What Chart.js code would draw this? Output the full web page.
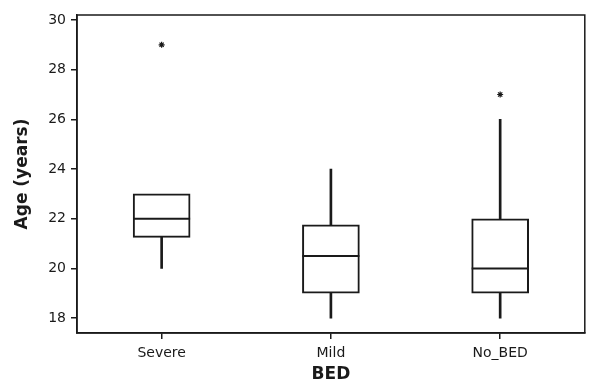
<!DOCTYPE html>
<html>
<head>
<meta charset="utf-8">
<script src="https://cdn.jsdelivr.net/npm/chart.js@4"></script>
<style>
  html, body { margin: 0; padding: 0; background: #fff; }
  #wrap { width: 590px; height: 389px; }
</style>
</head>
<body>
<div id="wrap"><canvas id="chart"></canvas></div>
<script>
// box plot summary
const groups = ['Severe', 'Mild', 'No_BED'];
const whiskerLow = [20, 18, 18];
const q1 = [21.25, 19, 19];
const median = [22, 20.5, 20];
const q3 = [23, 21.75, 22];
const whiskerHigh = [23, 24, 26];
const outliers = [{ x: 'Severe', y: 29 }, { x: 'No_BED', y: 27 }];
const yTicks = [18, 20, 22, 24, 26, 28, 30];

const INK = '#1a1a1a';

// median lines + frame around plot area
const boxExtras = {
  id: 'boxExtras',
  afterDatasetsDraw(chart) {
    const ctx = chart.ctx;
    const y = chart.scales.y;
    const bars = chart.getDatasetMeta(2).data;
    ctx.save();
    ctx.strokeStyle = INK;
    ctx.lineWidth = 2;
    bars.forEach((bar, i) => {
      const py = y.getPixelForValue(median[i]);
      ctx.beginPath();
      ctx.moveTo(bar.x - bar.width / 2, py);
      ctx.lineTo(bar.x + bar.width / 2, py);
      ctx.stroke();
    });
    const a = chart.chartArea;
    ctx.lineWidth = 1.5;
    ctx.strokeRect(a.left, a.top, a.right - a.left, a.bottom - a.top);
    ctx.restore();
  }
};

new Chart(document.getElementById('chart'), {
  data: {
    labels: groups,
    datasets: [
      {
        type: 'bar',
        data: groups.map((g, i) => whiskerLow[i] < q1[i] ? [whiskerLow[i], q1[i]] : null),
        backgroundColor: INK,
        barThickness: 2,
        grouped: false,
      },
      {
        type: 'bar',
        data: groups.map((g, i) => whiskerHigh[i] > q3[i] ? [q3[i], whiskerHigh[i]] : null),
        backgroundColor: INK,
        barThickness: 2,
        grouped: false,
      },
      {
        type: 'bar',
        data: groups.map((g, i) => [q1[i], q3[i]]),
        backgroundColor: '#fff',
        borderColor: INK,
        borderWidth: 2,
        borderSkipped: false,
        barThickness: 57,
        grouped: false,
      },
      {
        type: 'scatter',
        data: outliers,
        pointStyle: 'star',
        radius: 3,
        borderColor: INK,
        borderWidth: 1.2,
        backgroundColor: INK,
      },
    ],
  },
  options: {
    responsive: true,
    maintainAspectRatio: false,
    animation: false,
    layout: { padding: { top: 15, right: 5, left: 8, bottom: 0 } },
    plugins: { legend: { display: false }, tooltip: { enabled: false } },
    scales: {
      x: {
        type: 'category',
        offset: true,
        grid: { offset: false, drawOnChartArea: false, drawTicks: true, tickLength: 6, color: INK, lineWidth: 1.5 },
        border: { display: true, color: INK, width: 1.5 },
        ticks: { color: INK, font: { family: 'DejaVu Sans', size: 14 }, padding: 6 },
        title: { display: true, text: 'BED', color: INK, font: { family: 'DejaVu Sans', size: 17, weight: 'bold' }, padding: { top: 5 } },
        afterFit(scale) { scale.height = 56; },
      },
      y: {
        min: 17.4,
        max: 30.2,
        afterBuildTicks(scale) { scale.ticks = yTicks.map(v => ({ value: v })); },
        grid: { drawOnChartArea: false, drawTicks: true, tickLength: 6, color: INK, lineWidth: 1.5 },
        border: { display: true, color: INK, width: 1.5 },
        ticks: { color: INK, font: { family: 'DejaVu Sans', size: 14 }, padding: 5 },
        title: { display: true, text: 'Age (years)', color: INK, font: { family: 'DejaVu Sans', size: 17, weight: 'bold' }, padding: { bottom: 4 } },
        afterFit(scale) { scale.width = 69; },
      },
    },
  },
  plugins: [boxExtras],
});
</script>
</body>
</html>
